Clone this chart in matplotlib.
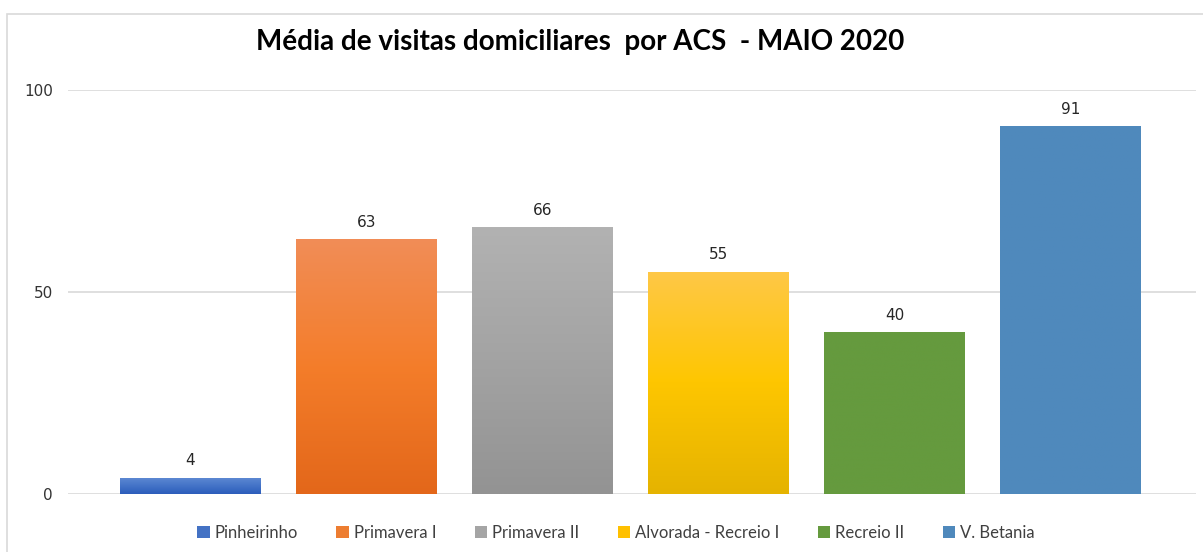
import numpy as np
import matplotlib
matplotlib.use('Agg')
import matplotlib.pyplot as plt
from matplotlib.patches import Rectangle, Patch

# ---------------------------------------------------------------
# ** DADOS **

categorias = ['Pinheirinho', 'Primavera I', 'Primavera II',
              'Alvorada - Recreio I', 'Recreio II', 'V. Betania']
media_visitas = [4, 63, 66, 55, 40, 91]
# cores do topo, meio e base de cada barra (degradê)
cores_topo = ['#5f8ad3', '#f18d57', '#b2b2b2', '#ffc847', '#659a3e', '#4f89bc']
cores_meio = ['#4474c8', '#f47d2a', '#a3a3a3', '#fec600', '#659a3e', '#4f89bc']
cores_base = ['#2c5dbb', '#e3671a', '#939393', '#e5b300', '#659a3e', '#4f89bc']
cores_legenda = ['#4472c4', '#ed7d31', '#a5a5a5', '#ffc000', '#659a3e', '#4f89bc']
titulo = 'Média de visitas domiciliares  por ACS  - MAIO 2020'

# ---------------------------------------------------------------
# ** FIGURA **

fig = plt.figure(figsize=(12.03, 5.52), dpi=100)
fig.patches.append(Rectangle((7 / 1203, -0.1), 1.2, 1 - 14 / 552 + 0.1,
                             transform=fig.transFigure, fill=False,
                             edgecolor='#d9d9d9', linewidth=1.2))

ax = fig.add_axes([68 / 1203, 1 - 494 / 552, (1196 - 68) / 1203, (494 - 90) / 552])

x = np.arange(len(categorias))
barras = ax.bar(x, media_visitas, width=0.8, color=cores_legenda, zorder=2)

def hex_rgb(c):
    c = c.lstrip('#')
    return np.array([int(c[i:i + 2], 16) / 255 for i in (0, 2, 4)])

t = np.linspace(0, 1, 256)
for b, ct, cm, cb in zip(barras, cores_topo, cores_meio, cores_base):
    grad = np.stack([np.interp(t, [0, 0.5, 1],
                               [hex_rgb(ct)[k], hex_rgb(cm)[k], hex_rgb(cb)[k]])
                     for k in range(3)], axis=-1)[:, None, :]
    x0, w, h = b.get_x(), b.get_width(), b.get_height()
    im = ax.imshow(grad, extent=(x0, x0 + w, 0, h), aspect='auto',
                   origin='upper', zorder=3)
    im.set_clip_path(b)

for xi, v in zip(x, media_visitas):
    ax.annotate(f'{v}', (xi, v), xytext=(0, 7), textcoords='offset points',
                ha='center', va='bottom', fontsize=11, color='#262626',
                family='DejaVu Sans')

ax.set_xlim(-0.696, 5.713)
ax.set_ylim(0, 100)
ax.set_yticks([0, 50, 100])
ax.set_xticks([])
ax.tick_params(axis='y', length=0, pad=11, labelsize=11, labelcolor='#333333')
ax.grid(axis='y', color='#d9d9d9', linewidth=1.2, zorder=0)
for s in ax.spines.values():
    s.set_visible(False)

fig.text(580 / 1203, 1 - 42 / 552, titulo, ha='center', va='center',
         fontsize=20, fontweight='bold', family='Lato', color='#000000')

handles = [Patch(facecolor=c, edgecolor='none') for c in cores_legenda]
fig.legend(handles, categorias, loc='center', ncol=6,
           bbox_to_anchor=(616 / 1203, 1 - 533 / 552), frameon=False,
           prop={'family': 'Lato', 'size': 12}, labelcolor='#404040',
           handlelength=0.75, handleheight=0.75, handletextpad=0.3,
           columnspacing=2.3)

fig.savefig('out.png', dpi=100)
